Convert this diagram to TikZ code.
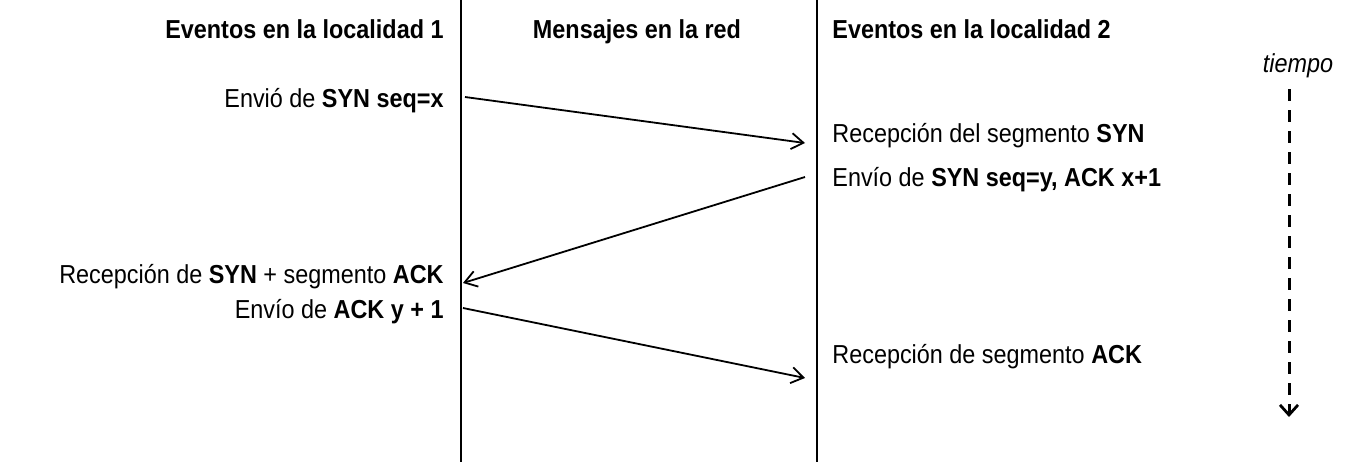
\documentclass[tikz,border=0pt]{standalone}
\usepackage{fontspec}
\setmainfont{Liberation Sans}[FakeStretch=0.9]
\usetikzlibrary{arrows.meta}
\begin{document}
\begin{tikzpicture}[x=0.5pt,y=-0.5pt,
    lbl/.style={inner sep=0pt,font=\fontsize{13}{15}\selectfont},
    msg/.style={line width=0.9pt,-{Straight Barb[length=6pt,width=8pt,line width=0.9pt]}}]
  \useasboundingbox (0,0) rectangle (1371,462);
  \draw
    (444,38) node[lbl,anchor=base east] (h1){\bfseries Eventos en la localidad 1}
    (637,38) node[lbl,anchor=base] (h2){\bfseries Mensajes en la red}
    (832,38) node[lbl,anchor=base west] (h3){\bfseries Eventos en la localidad 2}
    (1298,72) node[lbl,anchor=base] (tiempo){\itshape tiempo}
    (444,107) node[lbl,anchor=base east] (e1){Envió de \textbf{SYN seq=x}}
    (832,142) node[lbl,anchor=base west] (e2){Recepción del segmento \textbf{SYN}}
    (832,186) node[lbl,anchor=base west] (e3){Envío de \textbf{SYN seq=y, ACK x+1}}
    (444,283) node[lbl,anchor=base east] (e4){Recepción de \textbf{SYN} + segmento \textbf{ACK}}
    (444,318) node[lbl,anchor=base east] (e5){Envío de \textbf{ACK y + 1}}
    (832,363) node[lbl,anchor=base west] (e6){Recepción de segmento \textbf{ACK}};
  % lineas de las localidades
  \coordinate (l1a) at (461,0);
  \coordinate (l1b) at (461,462);
  \coordinate (l2a) at (817,0);
  \coordinate (l2b) at (817,462);
  \draw[line width=1pt] (l1a) -- (l1b);
  \draw[line width=1pt] (l2a) -- (l2b);
  % mensajes
  \coordinate (m1a) at (465,97);
  \coordinate (m1b) at (805,143);
  \coordinate (m2a) at (805,177);
  \coordinate (m2b) at (463,283);
  \coordinate (m3a) at (463,308);
  \coordinate (m3b) at (805,378);
  \begin{scope}[msg]
    \draw (m1a) to (m1b);
    \draw (m2a) to (m2b);
    \draw (m3a) to (m3b);
  \end{scope}
  % tiempo
  \coordinate (t1) at (1289,89);
  \coordinate (t2) at (1289,417);
  \draw[line width=1.5pt,dash pattern=on 6pt off 4.5pt,
    -{Straight Barb[length=5pt,width=9pt,line width=1.4pt]}] (t1) -- (t2);
\end{tikzpicture}
\end{document}
